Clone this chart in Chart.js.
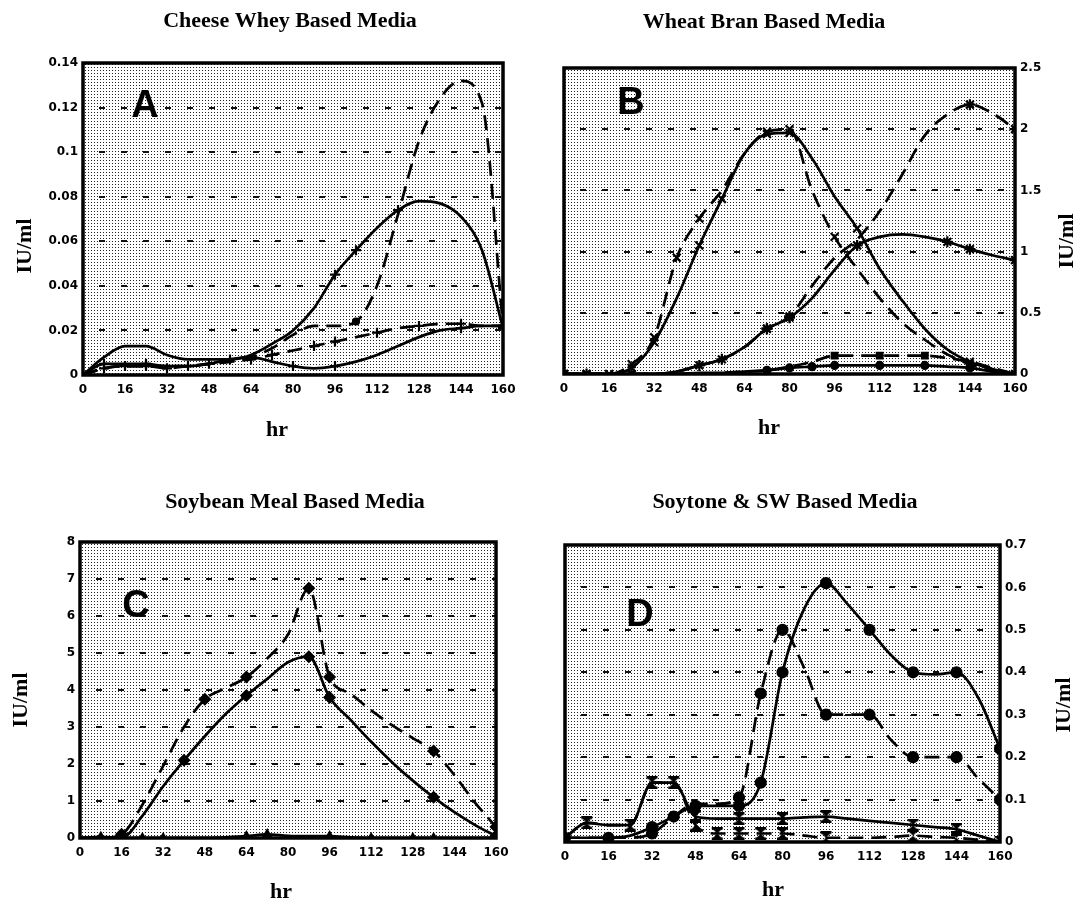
<!DOCTYPE html>
<html>
<head>
<meta charset="utf-8">
<script src="https://cdn.jsdelivr.net/npm/chart.js@4.4.1/dist/chart.umd.min.js"></script>
<style>
  body { margin: 0; background: #fff; }
  #wrap { position: relative; width: 1079px; height: 902px; }
  canvas { position: absolute; }
</style>
</head>
<body>
<div id="wrap">
  <canvas id="cA" width="540" height="450" style="left:0;top:0"></canvas>
  <canvas id="cB" width="539" height="450" style="left:540px;top:0"></canvas>
  <canvas id="cC" width="540" height="452" style="left:0;top:450px"></canvas>
  <canvas id="cD" width="539" height="452" style="left:540px;top:450px"></canvas>
</div>
<script>
// eje x comun (horas)
const hourTicks = [0, 16, 32, 48, 64, 80, 96, 112, 128, 144, 160];
const hourLabels = ["0", "16", "32", "48", "64", "80", "96", "112", "128", "144", "160"];
const sampleHours = [0, 8, 16, 24, 32, 40, 48, 56, 64, 72, 80, 88, 96, 104, 112, 120, 128, 136, 144, 152, 160];

// A - Cheese Whey
const yTicksA = [0, 0.02, 0.04, 0.06, 0.08, 0.1, 0.12, 0.14];
const yLabelsA = ["0", "0.02", "0.04", "0.06", "0.08", "0.1", "0.12", "0.14"];
const aSolidHigh = [0, 0.008, 0.013, 0.013, 0.009, 0.007, 0.007, 0.007, 0.009, 0.014, 0.02, 0.03, 0.045, 0.056, 0.066, 0.074, 0.078, 0.077, 0.071, 0.056, 0.021];
const aSolidLow = [0, 0.005, 0.005, 0.005, 0.004, 0.004, 0.005, 0.007, 0.008, 0.006, 0.004, 0.003, 0.004, 0.006, 0.009, 0.013, 0.017, 0.02, 0.021, 0.022, 0.022];
const aDashRise = [0, 0.003, 0.004, 0.004, 0.004, 0.004, 0.005, 0.006, 0.008, 0.012, 0.018, 0.022, 0.022, 0.024, 0.04, 0.072, 0.105, 0.124, 0.132, 0.122, 0.022];
const aDashCross = [0, 0.003, 0.004, 0.004, 0.003, 0.004, 0.005, 0.006, 0.007, 0.009, 0.011, 0.013, 0.015, 0.017, 0.019, 0.021, 0.022, 0.023, 0.023, 0.022, 0.022];
const aSolidHighMarks = [96, 104, 120, 160];
const aSolidLowMarks = [8, 24, 40, 56, 80, 96, 144, 160];
const aDashRiseMarks = [104];
const aDashCrossMarks = [8, 16, 24, 32, 48, 64, 72, 88, 96, 112, 128, 144, 160];

// B - Wheat Bran
const yTicksB = [0, 0.5, 1, 1.5, 2, 2.5];
const yLabelsB = ["0", "0.5", "1", "1.5", "2", "2.5"];
const bSolidX = [0, 0, 0, 0.05, 0.26, 0.62, 1.05, 1.43, 1.8, 1.96, 1.97, 1.76, 1.45, 1.19, 0.86, 0.6, 0.37, 0.2, 0.1, 0.04, 0];
const bDashX = [0, 0, 0, 0.08, 0.3, 0.95, 1.27, 1.5, 1.8, 1.98, 2.0, 1.5, 1.12, 0.86, 0.62, 0.42, 0.28, 0.16, 0.08, 0.03, 0];
const bSolidStar = [0, 0, 0, 0, 0, 0.02, 0.07, 0.12, 0.22, 0.37, 0.46, 0.62, 0.85, 1.05, 1.12, 1.14, 1.12, 1.08, 1.02, 0.97, 0.93];
const bDashStar = [0, 0, 0, 0, 0, 0.02, 0.07, 0.12, 0.22, 0.37, 0.47, 0.72, 0.95, 1.1, 1.33, 1.63, 1.95, 2.12, 2.2, 2.13, 2.0];
const bDashBar = [0, 0, 0, 0, 0, 0, 0, 0.01, 0.02, 0.03, 0.06, 0.1, 0.15, 0.15, 0.15, 0.15, 0.15, 0.13, 0.1, 0.05, 0];
const bSolidDot = [0, 0, 0, 0, 0, 0, 0.01, 0.01, 0.02, 0.03, 0.05, 0.06, 0.07, 0.07, 0.07, 0.07, 0.07, 0.06, 0.05, 0.02, 0];
const bSolidXMarks = [0, 8, 16, 24, 32, 48, 56, 72, 80, 104, 144, 160];
const bDashXMarks = [24, 32, 40, 48, 72, 80, 96, 144];
const bSolidStarMarks = [0, 8, 24, 48, 56, 72, 80, 104, 136, 144, 160];
const bDashStarMarks = [72, 80, 144, 160];
const bDashBarMarks = [96, 112, 128];
const bSolidDotMarks = [72, 80, 88, 96, 112, 128, 144];

// C - Soybean Meal
const yTicksC = [0, 1, 2, 3, 4, 5, 6, 7, 8];
const yLabelsC = ["0", "1", "2", "3", "4", "5", "6", "7", "8"];
const cSolid = [0, 0, 0, 0.6, 1.4, 2.1, 2.75, 3.35, 3.85, 4.3, 4.75, 4.9, 3.8, 3.2, 2.6, 2.05, 1.55, 1.1, 0.7, 0.35, 0.05];
const cDash = [0, 0, 0.1, 0.9, 1.95, 3.0, 3.75, 4.05, 4.35, 4.85, 5.5, 6.75, 4.35, 3.9, 3.45, 3.05, 2.7, 2.35, 1.7, 0.95, 0.3];
const cLow = [0, 0.03, 0, 0, 0, 0, 0, 0.02, 0.05, 0.1, 0.06, 0.05, 0.05, 0.02, 0, 0, 0, 0, 0, 0, 0];
const cSolidMarks = [16, 40, 64, 88, 96, 136, 160];
const cDashMarks = [16, 48, 64, 88, 96, 136, 160];
const cLowMarks = [8, 16, 24, 32, 64, 72, 96, 112, 128, 136, 160];

// D - Soytone & SW
const yTicksD = [0, 0.1, 0.2, 0.3, 0.4, 0.5, 0.6, 0.7];
const yLabelsD = ["0", "0.1", "0.2", "0.3", "0.4", "0.5", "0.6", "0.7"];
const dSolidDot = [0.01, 0.01, 0.01, 0.015, 0.035, 0.06, 0.085, 0.085, 0.085, 0.14, 0.4, 0.55, 0.61, 0.56, 0.5, 0.44, 0.4, 0.395, 0.4, 0.34, 0.22];
const dDashDot = [0.01, 0.01, 0.01, 0.01, 0.02, 0.06, 0.09, 0.09, 0.105, 0.35, 0.5, 0.41, 0.3, 0.3, 0.3, 0.24, 0.2, 0.2, 0.2, 0.15, 0.1];
const dSolidGlass = [0.01, 0.045, 0.04, 0.04, 0.14, 0.14, 0.06, 0.055, 0.055, 0.055, 0.055, 0.058, 0.06, 0.055, 0.05, 0.045, 0.04, 0.035, 0.03, 0.015, 0];
const dDashGlass = [0.01, 0.045, 0.04, 0.04, 0.14, 0.14, 0.04, 0.02, 0.02, 0.02, 0.02, 0.015, 0.01, 0.01, 0.01, 0.012, 0.015, 0.012, 0.01, 0.005, 0];
const dSolidDotMarks = [0, 16, 32, 40, 48, 64, 72, 80, 96, 112, 128, 144, 160];
const dDashDotMarks = [32, 64, 72, 80, 96, 112, 128, 144, 160];
const dSolidGlassMarks = [8, 24, 32, 40, 48, 64, 80, 96, 128, 144, 160];
const dDashGlassMarks = [48, 56, 64, 72, 80, 96, 128, 144];

const tickFont = { family: "DejaVu Sans", size: 12, weight: "bold" };

// trama punteada del fondo
const stipple = document.createElement("canvas");
stipple.width = 3;
stipple.height = 3;
{
  const g = stipple.getContext("2d");
  g.fillStyle = "#fff";
  g.fillRect(0, 0, 3, 3);
  g.fillStyle = "#222";
  g.fillRect(1, 1, 1, 1);
}

// marcador "reloj de arena"
const hourglass = document.createElement("canvas");
hourglass.width = 13;
hourglass.height = 13;
{
  const g = hourglass.getContext("2d");
  g.fillStyle = "#000";
  g.beginPath();
  g.moveTo(1, 1);
  g.lineTo(12, 1);
  g.lineTo(1, 12);
  g.lineTo(12, 12);
  g.closePath();
  g.fill();
  g.fillRect(1, 0, 11, 2.5);
  g.fillRect(1, 10.5, 11, 2.5);
}

const paperLook = {
  id: "paperLook",
  beforeDraw(chart) {
    const { ctx, chartArea: a } = chart;
    ctx.save();
    ctx.fillStyle = ctx.createPattern(stipple, "repeat");
    ctx.fillRect(a.left, a.top, a.width, a.height);
    ctx.restore();
  },
  beforeDatasetsDraw(chart) {
    const { ctx, chartArea: a } = chart;
    ctx.save();
    ctx.strokeStyle = "#000";
    ctx.lineWidth = 3.5;
    ctx.strokeRect(a.left, a.top, a.width, a.height);
    ctx.restore();
  },
  afterDraw(chart, args, o) {
    const ctx = chart.ctx;
    ctx.save();
    ctx.fillStyle = "#000";
    ctx.textAlign = "center";
    ctx.textBaseline = "middle";
    ctx.font = 'bold 22px "Liberation Serif"';
    ctx.fillText(o.title, o.titleAt[0], o.titleAt[1]);
    ctx.fillText("hr", o.xTitleAt[0], o.xTitleAt[1]);
    ctx.save();
    ctx.translate(o.yTitleAt[0], o.yTitleAt[1]);
    ctx.rotate(-Math.PI / 2);
    ctx.fillText("IU/ml", 0, 0);
    ctx.restore();
    ctx.font = 'bold 38px "Liberation Sans"';
    ctx.fillText(o.letter, o.letterAt[0], o.letterAt[1]);
    ctx.restore();
  },
};

function serie(values, marks, dashed, point, r) {
  return {
    data: sampleHours.map((h, i) => ({ x: h, y: values[i] })),
    borderColor: "#000",
    borderWidth: 2.7,
    borderDash: dashed ? [15, 8] : [],
    cubicInterpolationMode: "monotone",
    fill: false,
    pointStyle: point,
    pointRadius: (c) => (c.raw && marks.includes(c.raw.x) ? r : 0),
    pointHoverRadius: 0,
    pointBorderColor: "#000",
    pointBackgroundColor: "#000",
    pointBorderWidth: 2.2,
  };
}

function drawPanel(id, p) {
  const canvas = document.getElementById(id);
  const cw = canvas.width, ch = canvas.height;
  const yW = 40, xH = 30;
  const a = p.area; // [left, top, right, bottom]
  new Chart(canvas, {
    type: "line",
    data: { datasets: p.datasets },
    options: {
      responsive: false,
      animation: false,
      devicePixelRatio: 1,
      layout: {
        padding: {
          left: a[0] - (p.side === "left" ? yW : 0),
          right: cw - a[2] - (p.side === "right" ? yW : 0),
          top: a[1],
          bottom: ch - a[3] - xH,
        },
      },
      plugins: {
        legend: { display: false },
        tooltip: { enabled: false },
        paperLook: p.text,
      },
      scales: {
        x: {
          type: "linear",
          min: 0,
          max: 160,
          afterBuildTicks: (s) => { s.ticks = hourTicks.map((v) => ({ value: v })); },
          afterFit: (s) => { s.height = xH; },
          grid: { display: false, drawTicks: false },
          border: { display: false },
          ticks: { padding: 8, font: tickFont, color: "#000", maxRotation: 0, autoSkip: false,
            callback: (v, i) => hourLabels[i] },
        },
        y: {
          type: "linear",
          position: p.side,
          min: 0,
          max: p.yTicks[p.yTicks.length - 1],
          afterBuildTicks: (s) => { s.ticks = p.yTicks.map((v) => ({ value: v })); },
          afterFit: (s) => { s.width = yW; },
          grid: { color: "#111", lineWidth: 2, drawTicks: false },
          border: { display: false, dash: [6, 16], dashOffset: -16 },
          ticks: { padding: 5, font: tickFont, color: "#000", autoSkip: false,
            callback: (v, i) => p.yLabels[i] },
        },
      },
    },
    plugins: [paperLook],
  });
}

drawPanel("cA", {
  side: "left",
  area: [83, 63, 503, 375],
  yTicks: yTicksA,
  yLabels: yLabelsA,
  datasets: [
    serie(aSolidHigh, aSolidHighMarks, false, "cross", 5),
    serie(aSolidLow, aSolidLowMarks, false, "cross", 5),
    serie(aDashRise, aDashRiseMarks, true, "circle", 3),
    serie(aDashCross, aDashCrossMarks, true, "cross", 5),
  ],
  text: { title: "Cheese Whey Based Media", titleAt: [290, 21], letter: "A", letterAt: [145, 107],
    yTitleAt: [25, 246], xTitleAt: [277, 430] },
});

drawPanel("cB", {
  side: "right",
  area: [24, 68, 475, 374],
  yTicks: yTicksB,
  yLabels: yLabelsB,
  datasets: [
    serie(bSolidX, bSolidXMarks, false, "crossRot", 5.5),
    serie(bDashX, bDashXMarks, true, "crossRot", 5.5),
    serie(bSolidStar, bSolidStarMarks, false, "star", 5.5),
    serie(bDashStar, bDashStarMarks, true, "star", 5.5),
    serie(bDashBar, bDashBarMarks, true, "rect", 4),
    serie(bSolidDot, bSolidDotMarks, false, "circle", 3.5),
  ],
  text: { title: "Wheat Bran Based Media", titleAt: [224, 22], letter: "B", letterAt: [91, 104],
    yTitleAt: [527, 241], xTitleAt: [229, 428] },
});

drawPanel("cC", {
  side: "left",
  area: [80, 92, 496, 388],
  yTicks: yTicksC,
  yLabels: yLabelsC,
  datasets: [
    serie(cSolid, cSolidMarks, false, "rectRot", 5),
    serie(cDash, cDashMarks, true, "rectRot", 5),
    serie(cLow, cLowMarks, false, "triangle", 4),
  ],
  text: { title: "Soybean Meal Based Media", titleAt: [295, 52], letter: "C", letterAt: [136, 157],
    yTitleAt: [21, 250], xTitleAt: [281, 442] },
});

drawPanel("cD", {
  side: "right",
  area: [25, 95, 460, 392],
  yTicks: yTicksD,
  yLabels: yLabelsD,
  datasets: [
    serie(dSolidDot, dSolidDotMarks, false, "circle", 5),
    serie(dDashDot, dDashDotMarks, true, "circle", 5),
    serie(dSolidGlass, dSolidGlassMarks, false, hourglass, 6),
    serie(dDashGlass, dDashGlassMarks, true, hourglass, 6),
  ],
  text: { title: "Soytone & SW Based Media", titleAt: [245, 52], letter: "D", letterAt: [100, 166],
    yTitleAt: [524, 255], xTitleAt: [233, 440] },
});
</script>
</body>
</html>
